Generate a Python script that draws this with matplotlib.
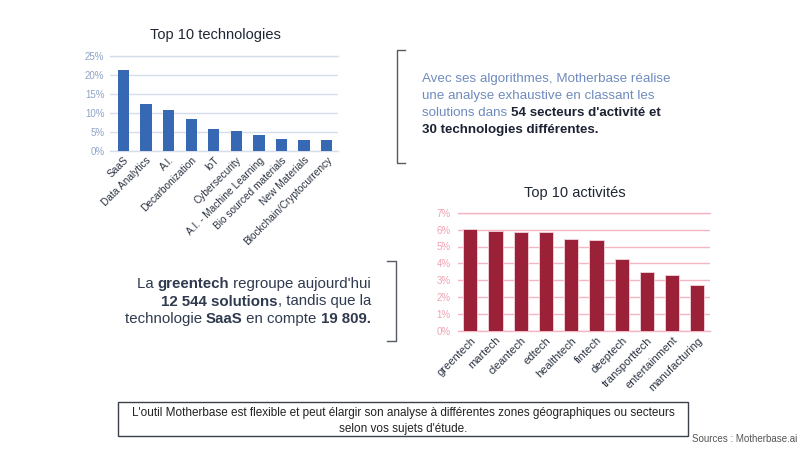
import matplotlib
matplotlib.use("Agg")
import matplotlib.pyplot as plt
from matplotlib.lines import Line2D
from matplotlib.patches import Rectangle
from matplotlib.ticker import PercentFormatter

plt.rcParams['font.family'] = ['Liberation Sans', 'DejaVu Sans']

tech_names = ["SaaS", "Data Analytics", "A.I.", "Decarbonization", "IoT",
              "Cybersecurity", "A.I. - Machine Learning", "Bio sourced materials",
              "New Materials", "Blockchain/Cryptocurrency"]
tech_share = [21.3, 12.3, 10.8, 8.5, 5.8, 5.3, 4.2, 3.2, 2.8, 2.8]

activity_names = ["greentech", "martech", "cleantech", "edtech", "healthtech",
                  "fintech", "deeptech", "transporttech", "entertainment", "manufacturing"]
activity_share = [6.02, 5.9, 5.87, 5.84, 5.46, 5.4, 4.26, 3.47, 3.33, 2.74]

tech_yticks = [0, 5, 10, 15, 20, 25]
activity_yticks = [0, 1, 2, 3, 4, 5, 6, 7]

W, H = 800, 450
fig = plt.figure(figsize=(8, 4.5), dpi=100)
fig.patch.set_facecolor("white")


def px_axes(x0, y0, x1, y1):
    # pixel box (top-left origin) -> figure axes
    return fig.add_axes([x0 / W, 1 - y1 / H, (x1 - x0) / W, (y1 - y0) / H])


def style_bar_axes(ax, names, ticks, grid_color, tick_color, label_size, pad):
    for s in ax.spines.values():
        s.set_visible(False)
    ax.set_yticks(ticks)
    ax.set_ylim(ticks[0], ticks[-1])
    ax.yaxis.set_major_formatter(PercentFormatter(decimals=0))
    ax.grid(axis="y", color=grid_color, linewidth=1.0)
    ax.set_axisbelow(True)
    ax.tick_params(axis="y", length=0, labelsize=7, labelcolor=tick_color, pad=pad)
    ax.tick_params(axis="x", length=0, labelsize=label_size, labelcolor="#2b3442", pad=3)
    ax.set_xticks(range(len(names)))
    ax.set_xticklabels(names, rotation=45, ha="right", rotation_mode="anchor")
    for yv in [ticks[0], ticks[-1]]:
        ax.axhline(yv, color=grid_color, linewidth=1.0, zorder=0, clip_on=False)


# Top 10 technologies
ax1 = px_axes(110, 56, 338, 151)
ax1.bar(range(len(tech_names)), tech_share, width=0.5, color="#3768b3", zorder=3)
style_bar_axes(ax1, tech_names, tech_yticks, "#d6ddeb", "#8fa3c8", 7.3, 4)
ax1.set_xlim(-0.6, 9.5)
fig.text(215 / W, 1 - 35 / H, "Top 10 technologies", ha="center", va="center",
         fontsize=10.5, color="#1f2633")

# Top 10 activités
ax2 = px_axes(457.7, 212.7, 710, 331)
ax2.bar(range(len(activity_names)), activity_share, width=0.56, color="#9a2137",
        edgecolor="#f3d6dc", linewidth=0.6, zorder=3)
style_bar_axes(ax2, activity_names, activity_yticks, "#f2b7c2", "#f0a3b3", 8, 5)
ax2.set_xlim(-0.5, 9.5)
fig.text(575 / W, 1 - 193 / H, "Top 10 activités", ha="center", va="center",
         fontsize=10.5, color="#1f2633")

renderer = fig.canvas.get_renderer()


def text_width(s, size, weight):
    t = fig.text(0, 0, s.replace(" ", "\u00a0"), fontsize=size, fontweight=weight)
    w = t.get_window_extent(renderer).width
    t.remove()
    return w


def rich_line(x, y, parts, size, align="left"):
    widths = [text_width(s, size, "bold" if b else "normal") for s, b, c in parts]
    start = x if align == "left" else x - sum(widths)
    for (s, b, c), w in zip(parts, widths):
        fig.text(start / W, 1 - y / H, s.replace(" ", "\u00a0"), fontsize=size,
                 fontweight="bold" if b else "normal", color=c, va="baseline")
        start += w


light = "#6f8bbd"
dark = "#1c2233"
right_lines = [
    [("Avec ses algorithmes, Motherbase réalise", False, light)],
    [("une analyse exhaustive en classant les", False, light)],
    [("solutions dans ", False, light), ("54 secteurs d'activité et", True, dark)],
    [("30 technologies différentes.", True, dark)],
]
for i, parts in enumerate(right_lines):
    rich_line(422, 82 + 17 * i, parts, 9.6)

grey = "#2f3a4f"
left_lines = [
    [("La ", False, grey), ("greentech", True, grey), (" regroupe aujourd'hui", False, grey)],
    [("12 544 solutions", True, grey), (", tandis que la", False, grey)],
    [("technologie ", False, grey), ("SaaS", True, grey), (" en compte ", False, grey),
     ("19 809.", True, grey)],
]
for i, parts in enumerate(left_lines):
    rich_line(371, 288 + 17.5 * i, parts, 10.8, align="right")

# brackets
bc = "#555a63"


def line_px(xs, ys):
    fig.add_artist(Line2D([x / W for x in xs], [1 - y / H for y in ys],
                          color=bc, linewidth=1.0))


line_px([405, 397, 397, 405], [50, 50, 163, 163])
line_px([387, 396, 396, 387], [261, 261, 341, 341])

# bottom box
fig.add_artist(Rectangle((118 / W, 1 - 436 / H), (688 - 118) / W, 34 / H,
                         transform=fig.transFigure, fill=False, edgecolor="#3a3f4a",
                         linewidth=1.0))
fig.text(403 / W, 1 - 416 / H,
         "L'outil Motherbase est flexible et peut élargir son analyse à différentes "
         "zones géographiques ou secteurs",
         ha="center", va="baseline", fontsize=8.5, color="#222222")
fig.text(403 / W, 1 - 432 / H, "selon vos sujets d'étude.",
         ha="center", va="baseline", fontsize=8.5, color="#222222")

fig.text(797 / W, 1 - 439 / H, "Sources : Motherbase.ai", ha="right", va="center",
         fontsize=7, color="#555555")

fig.savefig("out.png", dpi=100)
